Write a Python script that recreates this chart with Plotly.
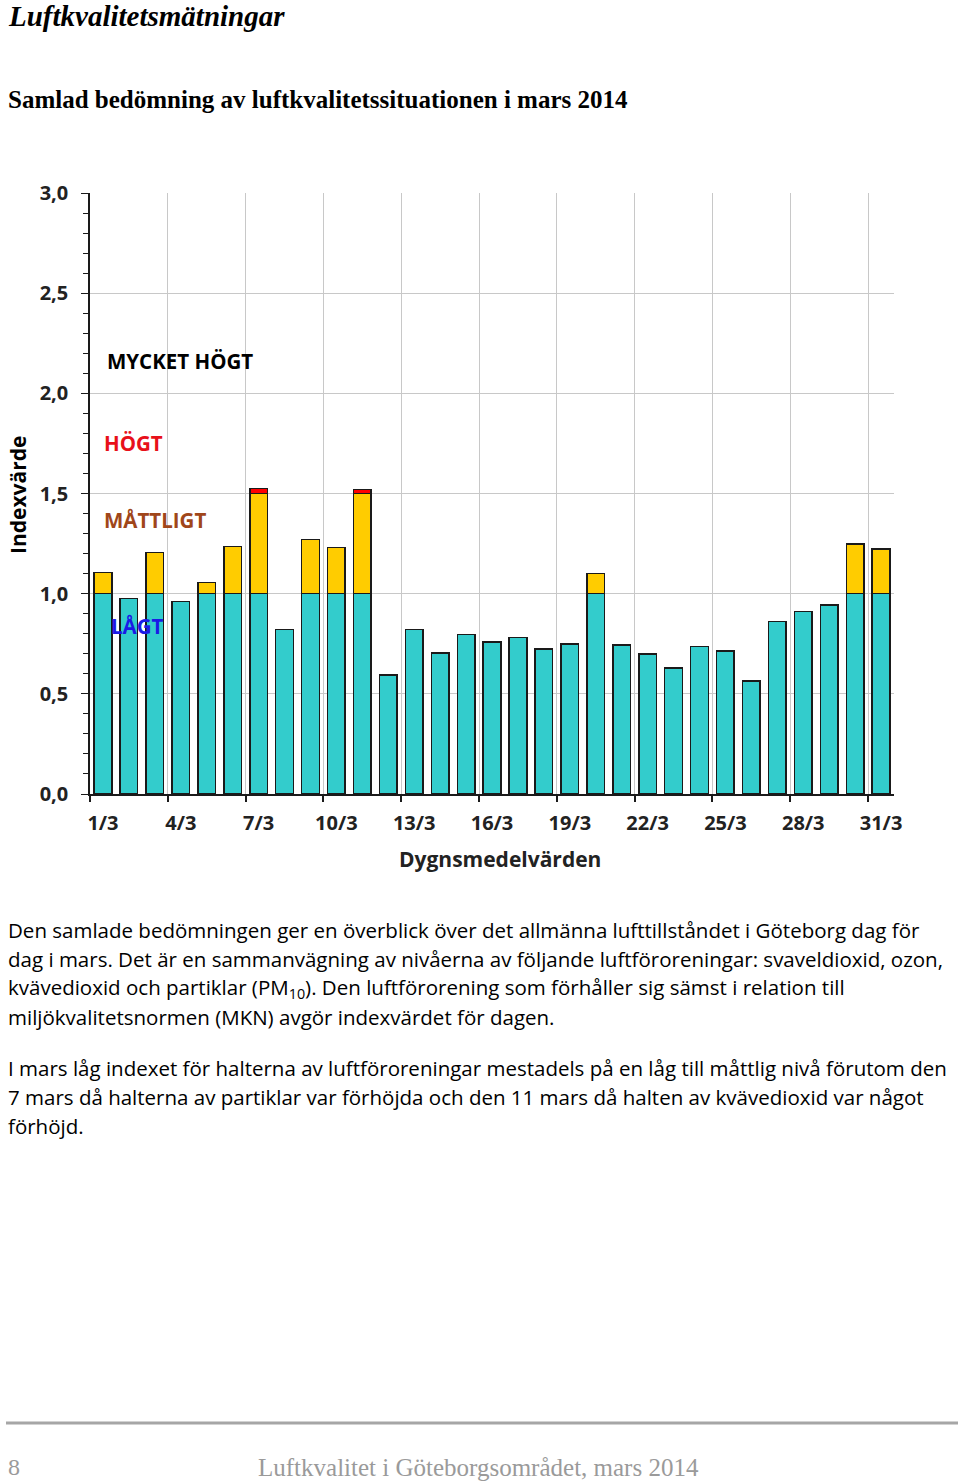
import plotly.graph_objects as go

# ---------------- data ----------------
days = list(range(1, 32))
lagt = [1.00, 0.975, 1.00, 0.962, 1.00, 1.00, 1.00, 0.82, 1.00, 1.00, 1.00,
        0.593, 0.82, 0.705, 0.795, 0.76, 0.78, 0.724, 0.749, 1.00, 0.744,
        0.70, 0.63, 0.737, 0.714, 0.564, 0.862, 0.91, 0.944, 1.00, 1.00]
mattligt = [0.105, 0, 0.205, 0, 0.055, 0.235, 0.50, 0, 0.27, 0.23, 0.50,
            0, 0, 0, 0, 0, 0, 0, 0, 0.10, 0,
            0, 0, 0, 0, 0, 0, 0, 0, 0.247, 0.222]
hogt = [0, 0, 0, 0, 0, 0, 0.026, 0, 0, 0, 0.02,
        0, 0, 0, 0, 0, 0, 0, 0, 0, 0,
        0, 0, 0, 0, 0, 0, 0, 0, 0, 0]
label_days = days[::3]
tick_labels = [f"{d}/3" for d in label_days]
boundaries = [d - 0.5 for d in label_days]
y_ticks = [0.0, 0.5, 1.0, 1.5, 2.0, 2.5, 3.0]

level_names = ["MYCKET HÖGT", "HÖGT", "MÅTTLIGT", "LÅGT"]

paragraph1 = [
    "Den samlade bedömningen ger en överblick över det allmänna lufttillståndet i Göteborg dag för",
    "dag i mars. Det är en sammanvägning av nivåerna av följande luftföroreningar: svaveldioxid, ozon,",
    "kvävedioxid och partiklar (PM<sub>10</sub>). Den luftförorening som förhåller sig sämst i relation till",
    "miljökvalitetsnormen (MKN) avgör indexvärdet för dagen.",
]
paragraph2 = [
    "I mars låg indexet för halterna av luftföroreningar mestadels på en låg till måttlig nivå förutom den",
    "7 mars då halterna av partiklar var förhöjda och den 11 mars då halten av kvävedioxid var något",
    "förhöjd.",
]

# ---------------- layout helpers ----------------
W, H = 960, 1483
L, R, T, B = 90, 894, 193, 794


def px(x):
    return (x - L) / (R - L)


def py(y):
    return (B - y) / (B - T)


CHART_FONT = "Open Sans"
TEXT_FONT = "Open Sans"
SERIF = "Liberation Serif"

fig = go.Figure()
line = dict(color="#1a1a1a", width=1.5)
fig.add_trace(go.Bar(x=days, y=lagt, marker=dict(color="#33CCCC", line=line),
                     width=0.68, name="LÅGT", hoverinfo="skip"))
fig.add_trace(go.Bar(x=days, y=mattligt, marker=dict(color="#FFCC00", line=line),
                     width=0.68, name="MÅTTLIGT", hoverinfo="skip"))
fig.add_trace(go.Bar(x=days, y=hogt, marker=dict(color="#FF0000", line=line),
                     width=0.68, name="HÖGT", hoverinfo="skip"))
# invisible trace so the boundary-tick axis is drawn
fig.add_trace(go.Scatter(x=[days[0]], y=[0], xaxis="x2", mode="markers",
                         marker=dict(opacity=0), hoverinfo="skip", showlegend=False))

ann = []


def add_text(text, x, y, size, color="black", family=TEXT_FONT, xanchor="left",
             angle=0):
    ann.append(dict(text=text, x=px(x), y=py(y), xref="paper", yref="paper",
                    xanchor=xanchor, yanchor="middle", showarrow=False,
                    textangle=angle,
                    font=dict(family=family, size=size, color=color)))


# headings
add_text("<b><i>Luftkvalitetsmätningar</i></b>", 6, 16, 29, family=SERIF)
add_text("<b>Samlad bedömning av luftkvalitetssituationen i mars 2014</b>", 6, 100, 25, family=SERIF)

# axis titles
add_text("<b>Indexvärde</b>", 18, 495, 21, family=CHART_FONT, xanchor="center", angle=-90)
add_text("<b>Dygnsmedelvärden</b>", 500, 859, 21, family=CHART_FONT, xanchor="center", color="#222")

# level labels inside chart (data coordinates)
level_pos = [(1.08, 2.16, "black"), (0.98, 1.75, "#E8101A"), (0.98, 1.37, "#A0461A"), (1.25, 0.84, "#1A1AE6")]
for name, (lx, ly, col) in zip(level_names, level_pos):
    ann.append(dict(text=f"<b>{name}</b>", x=lx, y=ly, xref="x", yref="y",
                    xanchor="left", yanchor="middle", showarrow=False,
                    font=dict(family=CHART_FONT, size=20.5, color=col)))

# paragraphs
for i, t in enumerate(paragraph1):
    add_text(t, 6, 930 + 29 * i, 20.5)
for i, t in enumerate(paragraph2):
    add_text(t, 6, 1068 + 29 * i, 20.5)

# footer
add_text("8", 6, 1467, 24, color="#9a9a9a", family=SERIF)
add_text("Luftkvalitet i Göteborgsområdet, mars 2014", 478, 1467, 25, color="#9a9a9a",
         family=SERIF, xanchor="center")

shapes = [dict(type="line", xref="paper", yref="paper", x0=px(6), x1=px(958),
               y0=py(1423), y1=py(1423), line=dict(color="#A6A6A6", width=3))]

fig.update_layout(
    width=W, height=H,
    margin=dict(l=L, r=W - R, t=T, b=H - B),
    paper_bgcolor="white", plot_bgcolor="white",
    barmode="stack", showlegend=False,
    separators=", ",
    annotations=ann, shapes=shapes,
    xaxis=dict(range=[0.5, 31.5], tickvals=label_days, ticktext=tick_labels,
               showgrid=False, zeroline=False, ticks="", showline=True,
               linecolor="#1a1a1a", linewidth=1.5, ticklabelstandoff=10,
               tickfont=dict(family=CHART_FONT, size=20, color="#222", weight="bold")),
    xaxis2=dict(overlaying="x", anchor="y", matches="x", range=[0.5, 31.5],
                tickvals=boundaries, ticks="outside", ticklen=7, tickwidth=1.5,
                tickcolor="#1a1a1a", showticklabels=False, showgrid=True,
                gridcolor="#C8C8C8", gridwidth=1.3, zeroline=False, showline=False),
    yaxis=dict(range=[0, 3], tickvals=y_ticks, tickformat=".1f",
               showgrid=True, gridcolor="#C8C8C8", gridwidth=1.3, zeroline=False,
               showline=True, linecolor="#1a1a1a", linewidth=1.5,
               ticks="outside", ticklen=7, tickwidth=1.3, tickcolor="#1a1a1a",
               ticklabelstandoff=9,
               minor=dict(dtick=0.1, ticks="outside", ticklen=5, tickcolor="#1a1a1a",
                          tickwidth=1.2, showgrid=False),
               tickfont=dict(family=CHART_FONT, size=20, color="#222", weight="bold")),
)

fig.write_html("out.html", config={"displayModeBar": False},
               post_script="document.body.style.margin='0px';document.body.style.padding='0px';")
